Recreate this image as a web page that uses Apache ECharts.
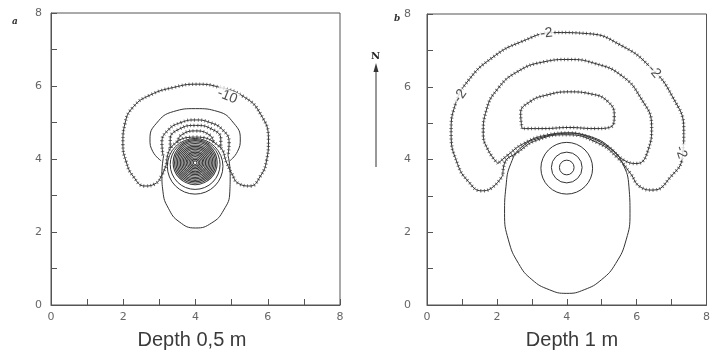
<!DOCTYPE html>
<html>
<head>
<meta charset="utf-8">
<script src="https://cdn.jsdelivr.net/npm/echarts@6/dist/echarts.min.js"></script>
<style>
html, body { margin: 0; padding: 0; background: #fff; }
#chart { width: 713px; height: 354px; }
</style>
</head>
<body>
<div id="chart"></div>
<script>
// tick labels (only even metres are labelled)
var tickLabels = ['0', '', '2', '', '4', '', '6', '', '8'];
var panelTitles = ['Depth 0,5 m', 'Depth 1 m'];

var contourA10 = [[3.2, 3.88], [3.07, 3.56], [2.88, 3.32], [2.6, 3.26], [2.28, 3.52], [2.08, 3.93],
    [1.99, 4.43], [2.05, 4.98], [2.28, 5.43], [2.74, 5.75], [3.39, 5.96], [4.04, 6.05], [4.68, 5.96],
    [5.33, 5.71], [5.79, 5.25], [6.02, 4.52], [5.97, 3.97], [5.79, 3.52], [5.51, 3.26], [5.19, 3.33],
    [5.0, 3.61], [4.87, 3.88], [4.65, 4.35], [4.0, 4.6], [3.35, 4.35], [3.2, 3.88]];
var arcA1 = [[3.1, 4.1], [3.07, 4.45], [3.25, 4.8], [3.6, 5.0], [4.0, 5.07], [4.4, 5.0], [4.75, 4.8], [4.93, 4.45], [4.9, 4.1]];
var arcA2 = [[3.3, 4.3], [3.3, 4.55], [3.55, 4.82], [4.0, 4.92], [4.45, 4.82], [4.7, 4.55], [4.7, 4.3]];
var arcA3 = [[3.5, 4.45], [3.6, 4.65], [4.0, 4.77], [4.4, 4.65], [4.5, 4.45]];
var solidArcA = [[3.05, 3.95], [2.82, 4.2], [2.74, 4.55], [2.92, 4.98], [3.39, 5.3], [4.0, 5.38],
    [4.62, 5.3], [5.06, 4.98], [5.24, 4.55], [5.16, 4.2], [4.95, 3.95]];
var eggA = [[3.12, 4.1], [3.07, 3.6], [3.1, 3.1], [3.25, 2.65], [3.55, 2.28], [4.0, 2.11], [4.45, 2.25],
    [4.78, 2.6], [4.95, 3.1], [4.96, 3.6], [4.9, 4.1]];
var coreCentreA = [3.99, 3.9];
var coreRadiiA = [0.05, 0.09, 0.13, 0.17, 0.21, 0.25, 0.29, 0.33, 0.37, 0.41, 0.45, 0.49, 0.53, 0.57, 0.61];
var ringsA = [[3.99, 3.85, 0.69], [3.99, 3.8, 0.77]];
var labelsA = [[4.88, 5.72, '-10']];

// ---- panel b (depth 1 m)
var contourB1 = [[2.17, 3.57], [1.84, 3.21], [1.56, 3.14], [1.19, 3.39], [0.87, 3.89], [0.69, 4.72],
    [0.82, 5.54], [1.19, 6.18], [1.84, 6.78], [2.68, 7.23], [3.69, 7.49], [4.62, 7.46], [5.55, 7.14],
    [6.38, 6.55], [7.03, 5.72], [7.35, 4.81], [7.31, 4.08], [6.98, 3.53], [6.47, 3.16], [6.1, 3.25],
    [5.82, 3.62], [5.45, 4.05], [4.9, 4.45], [4.0, 4.68], [3.14, 4.53], [2.6, 4.2], [2.22, 3.9], [2.17, 3.57]];
var contourB2 = [[2.03, 3.89], [1.75, 4.26], [1.61, 4.72], [1.7, 5.36], [2.03, 5.95], [2.58, 6.41],
    [3.32, 6.68], [4.06, 6.75], [4.81, 6.64], [5.55, 6.32], [6.1, 5.72], [6.43, 4.9], [6.33, 4.26],
    [6.01, 3.89], [5.64, 3.98], [5.18, 4.35], [4.62, 4.62], [4.06, 4.73], [3.42, 4.67], [2.77, 4.44],
    [2.31, 4.12], [2.03, 3.89]];
var contourB3 = [[2.72, 4.85], [2.68, 5.27], [2.95, 5.59], [3.42, 5.77], [4.06, 5.86], [4.71, 5.8],
    [5.18, 5.59], [5.36, 5.22], [5.27, 4.9], [4.81, 4.85], [4.06, 4.88], [3.32, 4.85], [2.72, 4.85]];
var eggB = [[4.06, 4.73], [3.32, 4.62], [2.72, 4.35], [2.4, 3.89], [2.26, 3.25], [2.22, 2.52],
    [2.33, 1.79], [2.62, 1.14], [3.0, 0.7], [3.5, 0.42], [4.0, 0.32], [4.5, 0.42], [5.0, 0.7],
    [5.4, 1.14], [5.7, 1.79], [5.81, 2.52], [5.78, 3.25], [5.6, 3.89], [5.27, 4.3], [4.71, 4.62], [4.06, 4.73]];
var ringsB = [[4.0, 3.78, 0.21], [4.0, 3.78, 0.44], [4.0, 3.76, 0.74]];
var labelsB = [[3.42, 7.47, '-2'], [0.95, 5.75, '-2'], [6.5, 6.42, '-2'], [7.27, 4.2, '-2']];
var labelRotB = [6, 55, -50, -72];

var LINE = '#333';

function grid(i) {
    return i === 0
        ? { left: 51, top: 13, width: 289, height: 292, show: true, borderColor: '#555', borderWidth: 1 }
        : { left: 427, top: 14, width: 288, height: 291, show: true, borderColor: '#555', borderWidth: 1 };
}
function axis(i, isY) {
    return {
        type: 'value', gridIndex: i, min: 0, max: 8, interval: 1,
        axisLine: { show: true, lineStyle: { color: '#555', width: 1 } },
        axisTick: { show: true, inside: true, length: 6, lineStyle: { color: '#555' } },
        splitLine: { show: false },
        axisLabel: {
            color: '#666', fontSize: 11, fontFamily: 'DejaVu Sans',
            margin: isY ? (i === 0 ? 9 : 16) : 7,
            formatter: function (v) { return tickLabels[v]; }
        }
    };
}

var series = [];
function solid(pts, i) {
    series.push({
        type: 'line', xAxisIndex: i, yAxisIndex: i, data: pts, smooth: 0.5, symbol: 'none', silent: true,
        lineStyle: { color: LINE, width: 1 }, z: 3
    });
}
function hachured(pts, i) {
    solid(pts, i);
    series.push({
        type: 'line', xAxisIndex: i, yAxisIndex: i, data: pts, smooth: 0.5, symbol: 'none', silent: true,
        lineStyle: { color: '#777', width: 3.5, type: [1, 2.5], cap: 'butt' }, z: 2
    });
}
function rings(data, i, width, colour) {
    series.push({
        type: 'custom', xAxisIndex: i, yAxisIndex: i, silent: true, z: 3,
        encode: { x: 0, y: 1 },
        data: data,
        renderItem: function (params, api) {
            var c = api.coord([api.value(0), api.value(1)]);
            var s = api.size([api.value(2), api.value(2)]);
            return { type: 'circle', shape: { cx: c[0], cy: c[1], r: s[0] },
                style: { fill: 'none', stroke: colour, lineWidth: width } };
        }
    });
}
function labels(data, rot, i) {
    series.push({
        type: 'scatter', xAxisIndex: i, yAxisIndex: i, symbolSize: 0, silent: true, z: 10,
        data: data.map(function (d, k) {
            return { value: [d[0], d[1]], name: d[2],
                label: { rotate: rot[k] } };
        }),
        label: {
            show: true, position: 'inside', formatter: '{b}', color: '#222', fontSize: 14,
            fontFamily: 'Liberation Sans', backgroundColor: '#fff', padding: [0, 1]
        }
    });
}

// panel a
hachured(contourA10, 0);
[arcA1, arcA2, arcA3].forEach(function (p) { hachured(p, 0); });
solid(solidArcA, 0);
solid(eggA, 0);
rings(coreRadiiA.map(function (r) { return [coreCentreA[0], coreCentreA[1], r]; }), 0, 1.1, '#3a3a3a');
rings(ringsA, 0, 1, LINE);
labels(labelsA, [-22], 0);

// panel b
[contourB1, contourB2, contourB3].forEach(function (p) { hachured(p, 1); });
solid(eggB, 1);
rings(ringsB, 1, 1, LINE);
labels(labelsB, labelRotB, 1);

var option = {
    backgroundColor: '#fff',
    animation: false,
    grid: [grid(0), grid(1)],
    xAxis: [axis(0, false), axis(1, false)],
    yAxis: [axis(0, true), axis(1, true)],
    series: series,
    graphic: [
        { type: 'text', left: 12, top: 17, style: { text: 'a', font: 'italic bold 9px "DejaVu Serif"', fill: '#333' } },
        { type: 'text', left: 394, top: 14, style: { text: 'b', font: 'italic bold 9px "DejaVu Serif"', fill: '#333' } },
        { type: 'text', left: 371, top: 51, style: { text: 'N', font: 'bold 10px "DejaVu Serif"', fill: '#222' } },
        { type: 'line', shape: { x1: 376, y1: 70, x2: 376, y2: 167 }, style: { stroke: '#333', lineWidth: 1 } },
        { type: 'polygon', shape: { points: [[376, 63], [373.5, 72], [378.5, 72]] }, style: { fill: '#333' } },
        { type: 'text', x: 192, y: 340, style: { text: panelTitles[0], font: '20px "Liberation Sans"', fill: '#3a3a3a', textAlign: 'center', textVerticalAlign: 'middle' } },
        { type: 'text', x: 572, y: 340, style: { text: panelTitles[1], font: '20px "Liberation Sans"', fill: '#3a3a3a', textAlign: 'center', textVerticalAlign: 'middle' } }
    ]
};

var myChart = echarts.init(document.getElementById('chart'));
myChart.setOption(option);
</script>
</body>
</html>
